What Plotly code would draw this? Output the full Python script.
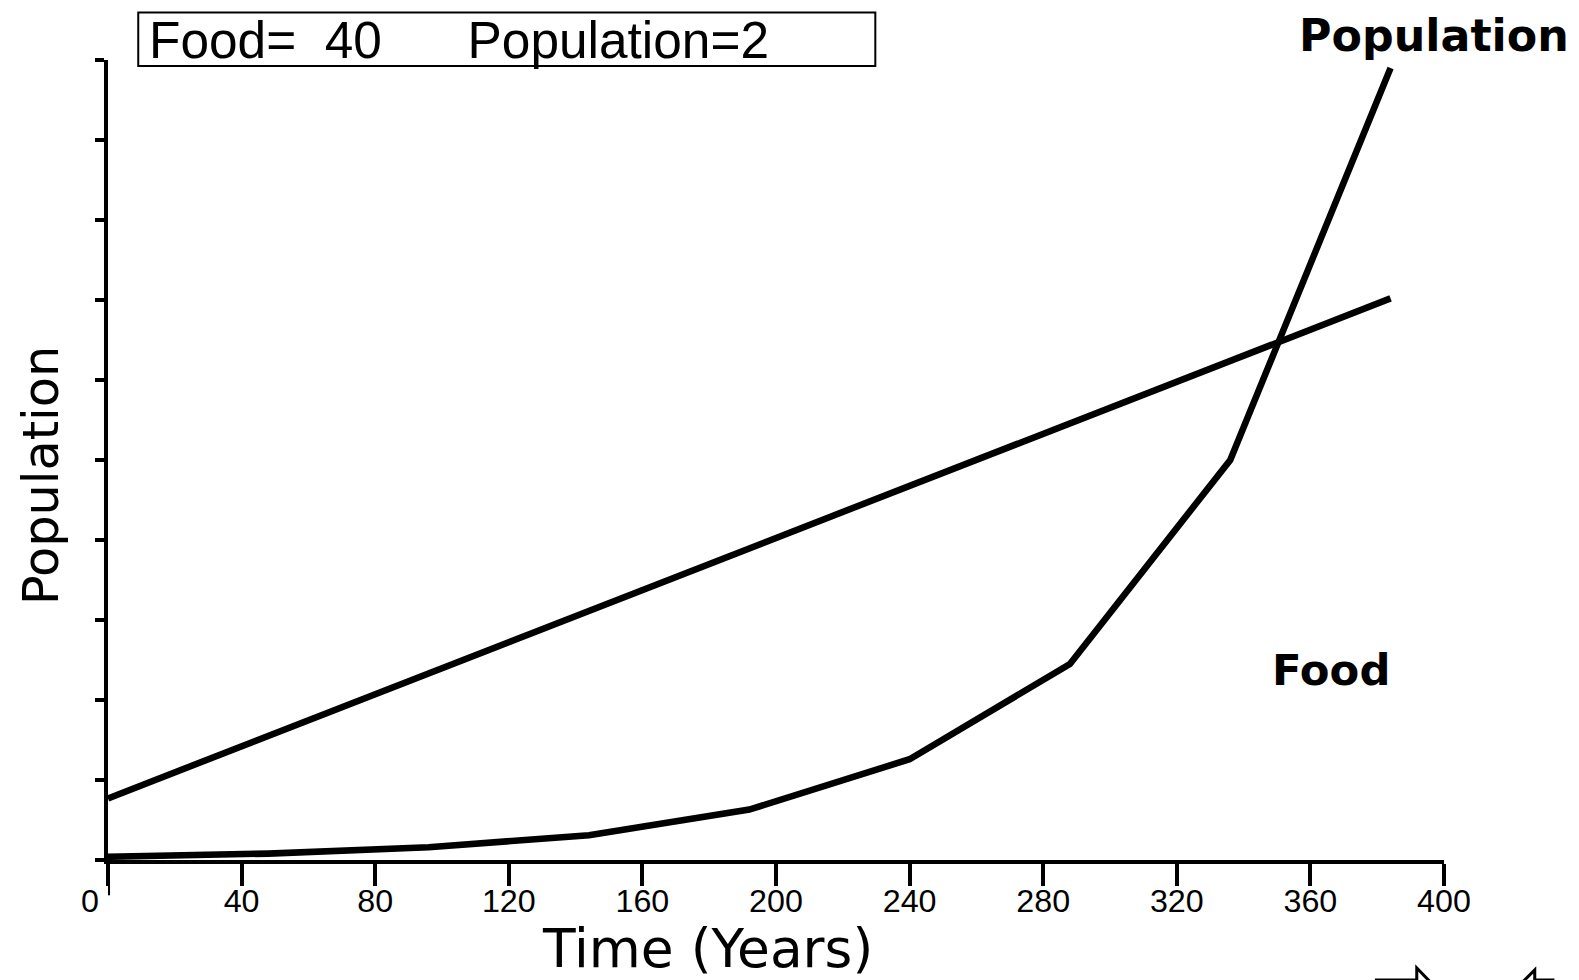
import plotly.graph_objects as go

# Data
years = [0, 48, 96, 144, 192, 240, 288, 336, 384]
food = [7.7, 15.5, 23.3, 31.1, 38.9, 46.7, 54.5, 62.3, 70.2]
population = [0.4, 0.8, 1.6, 3.1, 6.3, 12.6, 24.5, 50.0, 99.0]
x_ticks = [0, 40, 80, 120, 160, 200, 240, 280, 320, 360, 400]
y_ticks = [0, 10, 20, 30, 40, 50, 60, 70, 80, 90, 100]

# the photographed page is scaled slightly; compensate
K = 1.008
W, H = 1579, 980
L, R, T, B = 107, 1432, 60, 853


def s(v):
    return v * K


def px(xp):
    return (xp - L) / (R - L)


def py(yp):
    return (B - yp) / (B - T)


fig = go.Figure()
fig.add_trace(go.Scatter(x=years, y=food, mode="lines", name="Food",
                         line=dict(color="black", width=s(6.5)), showlegend=False))
fig.add_trace(go.Scatter(x=years, y=population, mode="lines", name="Population",
                         line=dict(color="black", width=s(6.5)), showlegend=False))

tickfont = dict(family="Liberation Sans Narrow, Liberation Sans, sans-serif", size=s(32), color="black")
nb = "\u00a0"
tick_text = [str(v) + (nb * 4 if v == 0 else "") for v in x_ticks]

fig.update_layout(
    width=round(s(W)), height=round(s(H)),
    margin=dict(l=s(L), r=s(W - R), t=s(T), b=s(H - B), pad=0),
    paper_bgcolor="white", plot_bgcolor="white",
    xaxis=dict(range=[0, 400], tickvals=x_ticks, ticktext=tick_text,
               ticks="outside", ticklen=s(22), tickwidth=s(4), tickcolor="black",
               showline=True, linewidth=s(4), linecolor="black", showgrid=False,
               zeroline=False, tickfont=tickfont, fixedrange=True,
               ticklabelstandoff=-13),
    yaxis=dict(range=[0, 100], tickvals=y_ticks, showticklabels=False,
               ticks="outside", ticklen=s(9), tickwidth=s(4), tickcolor="black",
               showline=True, linewidth=s(4), linecolor="black", showgrid=False,
               zeroline=False, fixedrange=True),
)

header = "Food=" + nb * 2 + "40" + nb * 6 + "Population=2"

fig.add_shape(type="rect", xref="paper", yref="paper",
              x0=px(137), x1=px(868), y0=py(66), y1=py(13),
              line=dict(color="black", width=s(2)), fillcolor="white")
fig.add_shape(type="line", xref="x", yref="paper", x0=0, x1=0, y0=0, y1=py(888),
              line=dict(color="black", width=s(4)))


def path(points):
    return "M " + " L ".join(f"{px(a):.5f},{py(b):.5f}" for a, b in points) + " Z"


# navigation arrows (partly cut off at the bottom edge)
right_arrow = [(1365, 972), (1405, 972), (1405, 960), (1432, 988), (1405, 1016), (1405, 1004), (1365, 1004)]
left_arrow = [(1540, 972), (1522, 972), (1522, 962), (1494, 990), (1522, 1018), (1522, 1006), (1540, 1006)]
fig.add_shape(type="path", xref="paper", yref="paper", path=path(right_arrow),
              line=dict(color="black", width=s(3)), fillcolor="white")
fig.add_shape(type="path", xref="paper", yref="paper", path=path(left_arrow),
              line=dict(color="black", width=s(3)), fillcolor="white")

fig.add_annotation(text=header, xref="paper", yref="paper", x=px(146), y=py(40),
                   xanchor="left", yanchor="middle", showarrow=False,
                   font=dict(family="Liberation Sans, sans-serif", size=s(51), color="black"))
fig.add_annotation(text="<b>Population</b>", xref="paper", yref="paper", x=px(1422), y=py(36),
                   xanchor="center", yanchor="middle", showarrow=False,
                   font=dict(family="DejaVu Sans, sans-serif", size=s(44), color="black"))
fig.add_annotation(text="<b>Food</b>", xref="paper", yref="paper", x=px(1320), y=py(665),
                   xanchor="center", yanchor="middle", showarrow=False,
                   font=dict(family="DejaVu Sans, sans-serif", size=s(43), color="black"))
fig.add_annotation(text="Time (Years)", xref="paper", yref="paper", x=px(702), y=py(941),
                   xanchor="center", yanchor="middle", showarrow=False,
                   font=dict(family="DejaVu Sans, sans-serif", size=s(53), color="black"))
fig.add_annotation(text="Population", xref="paper", yref="paper", x=px(40), y=py(472),
                   xanchor="center", yanchor="middle", textangle=-90, showarrow=False,
                   font=dict(family="DejaVu Sans, sans-serif", size=s(49), color="black"))

fig.write_html("out.html", config={"displayModeBar": False},
               post_script="document.body.style.margin='0px';document.body.style.overflow='hidden';")
